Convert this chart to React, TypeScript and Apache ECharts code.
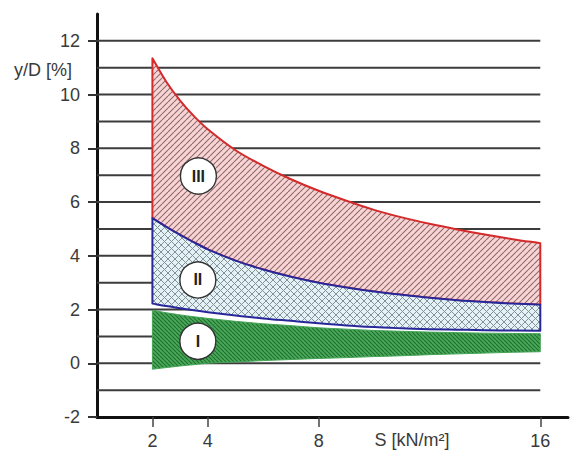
import React, { useEffect, useRef } from 'react';
import * as echarts from 'echarts';

// S [kN/m²] sample positions along the zone boundaries
const sValues = [2, 2.5, 3, 3.5, 4, 5, 6, 7, 8, 9, 10, 11, 12, 13, 14, 15, 16];
// Zone III upper boundary
const zoneIIIUpper = [11.35, 10.48, 9.78, 9.2, 8.71, 7.93, 7.35, 6.85, 6.42, 6.05, 5.71, 5.43, 5.19, 4.98, 4.79, 4.62, 4.47];
// Zone II upper boundary (= zone III lower boundary)
const zoneIIUpper = [5.4, 5.08, 4.78, 4.5, 4.24, 3.82, 3.49, 3.22, 3.0, 2.82, 2.67, 2.55, 2.44, 2.35, 2.28, 2.22, 2.18];
// Zone II lower boundary
const zoneIILower = [2.22, 2.13, 2.05, 1.97, 1.9, 1.78, 1.67, 1.58, 1.49, 1.41, 1.35, 1.3, 1.27, 1.25, 1.23, 1.22, 1.21];
// Zone I upper boundary
const zoneIUpper = [1.97, 1.88, 1.8, 1.73, 1.67, 1.56, 1.47, 1.4, 1.32, 1.27, 1.22, 1.19, 1.16, 1.14, 1.12, 1.11, 1.1];
// Zone I lower boundary
const zoneILower = [-0.22, -0.16, -0.1, -0.05, 0.0, 0.05, 0.1, 0.14, 0.18, 0.21, 0.25, 0.28, 0.32, 0.35, 0.38, 0.41, 0.43];

// Zone marker circles
const zoneLabels = ['I', 'II', 'III'];
const zoneLabelS = [3.64, 3.64, 3.66];
const zoneLabelY = [0.82, 3.1, 6.97];

// Axis ticks / labels
const xTickValues = [2, 4, 8, 16];
const yLabelValues = [-2, 0, 2, 4, 6, 8, 10, 12];
const gridLevels = [-1, 0, 1, 2, 3, 4, 5, 6, 7, 8, 9, 10, 11, 12];
const gridSpan = [0, 16];

const FONT = "'Liberation Sans', Arial, Helvetica, sans-serif";

function makeHatch(size: number, bg: string, line: string, lw: number, dirs: string[]) {
  const c = document.createElement('canvas');
  c.width = size;
  c.height = size;
  const ctx = c.getContext('2d')!;
  ctx.fillStyle = bg;
  ctx.fillRect(0, 0, size, size);
  ctx.strokeStyle = line;
  ctx.lineWidth = lw;
  for (const d of dirs) {
    ctx.beginPath();
    for (const o of [-size, 0, size]) {
      if (d === '/') {
        ctx.moveTo(o, size);
        ctx.lineTo(o + size, 0);
      } else {
        ctx.moveTo(o, 0);
        ctx.lineTo(o + size, size);
      }
    }
    ctx.stroke();
  }
  return { image: c, repeat: 'repeat', imageWidth: size, imageHeight: size } as any;
}

// Smooth cubic Hermite curve through pixel points (rendering only)
function curveSegs(p: number[][]): string {
  const n = p.length;
  const slope = (i: number) => {
    const a = p[Math.max(0, i - 1)];
    const b = p[Math.min(n - 1, i + 1)];
    return (b[1] - a[1]) / (b[0] - a[0]);
  };
  let d = '';
  for (let i = 0; i < n - 1; i++) {
    const p1 = p[i];
    const p2 = p[i + 1];
    const h = (p2[0] - p1[0]) / 3;
    const m1 = slope(i);
    const m2 = slope(i + 1);
    d += ` C${p1[0] + h},${p1[1] + m1 * h} ${p2[0] - h},${p2[1] - m2 * h} ${p2[0]},${p2[1]}`;
  }
  return d;
}

function zoneSeries(name: string, upper: number[], lower: number[], fill: any, stroke: string, lw: number) {
  return {
    type: 'custom',
    name,
    z: 3,
    silent: true,
    data: sValues.map((s, i) => [s, lower[i], upper[i]]),
    renderItem: (params: any, api: any) => {
      if (params.dataIndex !== 0) return null;
      const top = sValues.map((s, i) => api.coord([s, upper[i]]));
      const bot = sValues.map((s, i) => api.coord([s, lower[i]])).reverse();
      const d =
        `M${top[0][0]},${top[0][1]}` +
        curveSegs(top) +
        ` L${bot[0][0]},${bot[0][1]}` +
        curveSegs(bot) +
        ' Z';
      return {
        type: 'path',
        shape: { pathData: d },
        style: { fill, stroke, lineWidth: lw, lineJoin: 'round' },
      };
    },
  };
}

export default function App() {
  const ref = useRef<HTMLDivElement>(null);

  useEffect(() => {
    if (!ref.current) return;
    const chart = echarts.init(ref.current, undefined, { renderer: 'svg' });

    const hatchIII = makeHatch(6, '#fad4d4', '#8c6c6e', 1.1, ['/']);
    const hatchII = makeHatch(7, '#e2f3f8', '#8a8f96', 1.0, ['/', '\\']);
    const hatchI = makeHatch(4, '#4aa85a', '#1f6e2e', 1.1, ['\\']);

    chart.setOption({
      animation: false,
      backgroundColor: '#ffffff',
      grid: { left: 97, right: 15, top: 14, bottom: 32, containLabel: false },
      xAxis: {
        type: 'value',
        min: 0,
        max: 17,
        axisLine: { show: true, onZero: false, lineStyle: { color: '#111', width: 3 } },
        axisTick: {
          show: true,
          customValues: xTickValues,
          length: 10,
          lineStyle: { color: '#444', width: 1.5 },
        },
        axisLabel: {
          customValues: xTickValues,
          fontSize: 18,
          fontFamily: FONT,
          color: '#3a3a3a',
          margin: 15,
        },
        splitLine: { show: false },
      },
      yAxis: {
        type: 'value',
        min: -2,
        max: 13,
        interval: 1,
        axisLine: { show: true, onZero: false, lineStyle: { color: '#111', width: 3 } },
        axisTick: {
          show: true,
          customValues: yLabelValues,
          length: 9,
          lineStyle: { color: '#333', width: 2 },
        },
        axisLabel: {
          customValues: yLabelValues,
          fontSize: 18,
          fontFamily: FONT,
          color: '#3a3a3a',
          margin: 17,
        },
        splitLine: { show: false },
      },
      graphic: [
        {
          type: 'text',
          x: 72,
          y: 70,
          style: {
            text: 'y/D [%]',
            align: 'right',
            verticalAlign: 'middle',
            fontSize: 18,
            fontFamily: FONT,
            fill: '#3a3a3a',
          },
        },
        {
          type: 'text',
          x: 412,
          y: 440,
          style: {
            text: 'S [kN/m²]',
            align: 'center',
            verticalAlign: 'middle',
            fontSize: 18,
            fontFamily: FONT,
            fill: '#3a3a3a',
          },
        },
      ],
      series: [
        {
          type: 'custom',
          name: 'grid',
          z: 1,
          silent: true,
          data: gridLevels.map((v) => [gridSpan[0], v]),
          renderItem: (params: any, api: any) => {
            const y = api.value(1);
            const p1 = api.coord([gridSpan[0], y]);
            const p2 = api.coord([gridSpan[1], y]);
            return {
              type: 'line',
              shape: { x1: p1[0], y1: p1[1], x2: p2[0], y2: p2[1] },
              style: { stroke: '#3c3c3c', lineWidth: 2 },
            };
          },
        },
        zoneSeries('III', zoneIIIUpper, zoneIIUpper, hatchIII, '#d42a2a', 2),
        zoneSeries('II', zoneIIUpper, zoneIILower, hatchII, '#27279a', 2),
        zoneSeries('I', zoneIUpper, zoneILower, hatchI, '#44a455', 1),
        {
          type: 'scatter',
          name: 'labels',
          z: 5,
          silent: true,
          symbol: 'circle',
          symbolSize: 36,
          itemStyle: { color: '#ffffff', borderColor: '#333', borderWidth: 1.4, opacity: 1 },
          label: {
            show: true,
            position: 'inside',
            formatter: (p: any) => p.name,
            fontSize: 16,
            fontWeight: 'bold',
            fontFamily: FONT,
            color: '#222',
          },
          data: zoneLabels.map((n, i) => ({ name: n, value: [zoneLabelS[i], zoneLabelY[i]] })),
        },
      ],
    });

    return () => chart.dispose();
  }, []);

  return (
    <div
      ref={ref}
      style={{ position: 'absolute', left: 0, top: 0, width: 583, height: 450, background: '#fff' }}
    />
  );
}
